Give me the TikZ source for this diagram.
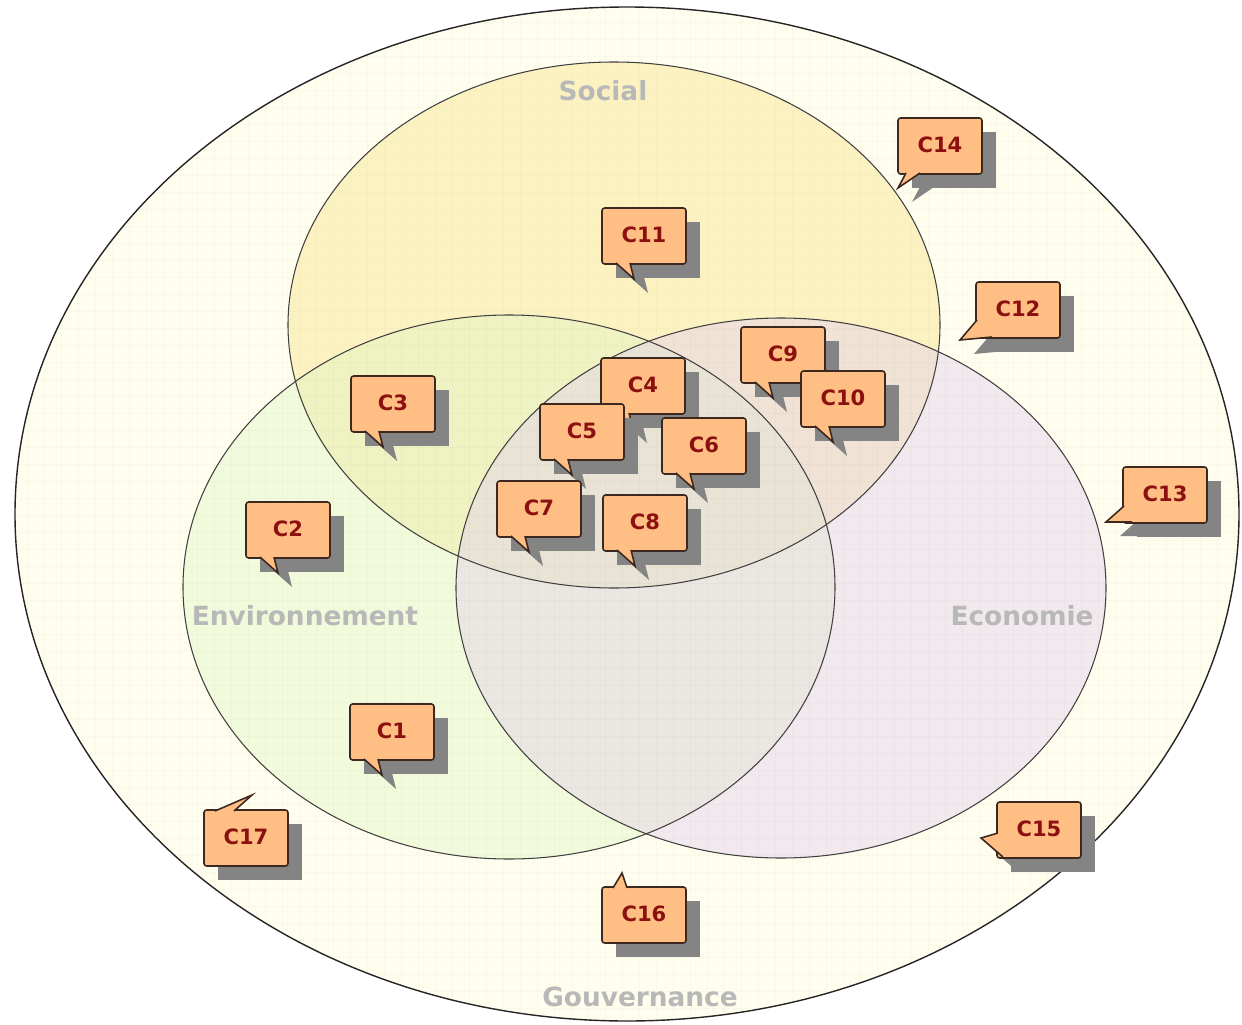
\documentclass[tikz,border=0pt]{standalone}
\usepackage{fontspec}
\setmainfont{DejaVu Sans}
\definecolor{outerfill}{RGB}{255,254,238}
\definecolor{socfill}{RGB}{250,232,150}
\definecolor{envfill}{RGB}{224,246,196}
\definecolor{ecofill}{RGB}{226,208,238}
\definecolor{lblgray}{RGB}{184,184,184}
\definecolor{cfillc}{RGB}{255,190,132}
\definecolor{clinec}{RGB}{60,40,30}
\definecolor{ctextc}{RGB}{140,16,16}
\definecolor{cshadowc}{RGB}{132,132,132}
\tikzset{
  cbox/.style={draw=clinec, line width=0.9pt, fill=cfillc, rounded corners=1.5pt,
    minimum width=1.68cm, minimum height=1.12cm, inner sep=0pt,
    font=\fontsize{12}{12}\selectfont\bfseries, text=ctextc},
  cline/.style={draw=clinec, line width=0.9pt, line join=miter},
  ctail/.style={fill=cfillc},
  cshadow/.style={fill=cshadowc},
  setlabel/.style={font=\fontsize{15}{15}\selectfont\bfseries, text=lblgray, inner sep=0pt},
  setline/.style={draw={black!75}, line width=0.6pt},
  gridline/.style={draw=black, opacity=0.018, line width=0.4pt}
}
\newcommand\callout[7]{%
  \fill[cshadow] ({#2-42+14},{#3-28+14}) rectangle ({#2+42+14},{#3+28+14});
  \fill[cshadow] ([shift={(14,14)}]#5) -- ([shift={(14,14)}]#7) -- ([shift={(14,14)}]#6) -- cycle;
  \node[cbox] (#1) at (#2,#3) {\raisebox{1.2pt}{#4}};
  \fill[ctail] (#5) -- (#7) -- (#6) -- cycle;
  \draw[cline] (#5) -- (#7) -- (#6);
}
\begin{document}
\begin{tikzpicture}[x=0.02cm,y=-0.02cm]
\fill[white] (0,0) rectangle (1242,1025);
\useasboundingbox (0,0) rectangle (1242,1025);
% outer ellipse (Gouvernance)
\fill[outerfill] (627,514) ellipse [x radius=612, y radius=507];
% sets
\fill[socfill, opacity=0.5] (614,325) ellipse [x radius=326, y radius=263];
\fill[envfill, opacity=0.45] (509,587) ellipse [x radius=326, y radius=272];
\fill[ecofill, opacity=0.45] (781,588) ellipse [x radius=325, y radius=270];
% faint grid
\begin{scope}
  \clip (627,514) ellipse [x radius=612, y radius=507];
  \foreach \i in {10,27,...,1242} \draw[gridline] (\i,0) -- (\i,1025);
  \foreach \j in {5,22,...,1025} \draw[gridline] (0,\j) -- (1242,\j);
\end{scope}
\draw[draw=black!85, line width=0.8pt] (627,514) ellipse [x radius=612, y radius=507];
\draw[setline] (614,325) ellipse [x radius=326, y radius=263];
\draw[setline] (509,587) ellipse [x radius=326, y radius=272];
\draw[setline] (781,588) ellipse [x radius=325, y radius=270];
% labels
\node[setlabel] (social) at (603,91) {Social};
\node[setlabel] (env) at (305,616) {Environnement};
\node[setlabel] (eco) at (1022,616) {Economie};
\node[setlabel] (gouv) at (640,997) {Gouvernance};
% callouts
\callout{c1}{392}{732}{C1}{364,759}{378,759}{382,775}
\callout{c2}{288}{530}{C2}{260,557}{274,557}{278,573}
\callout{c3}{393}{404}{C3}{365,431}{379,431}{383,447}
\callout{c4}{643}{386}{C4}{615,413}{629,413}{633,429}
\callout{c5}{582}{432}{C5}{554,459}{568,459}{572,475}
\callout{c6}{704}{446}{C6}{676,473}{690,473}{694,489}
\callout{c7}{539}{509}{C7}{511,536}{525,536}{529,552}
\callout{c8}{645}{523}{C8}{617,550}{631,550}{635,566}
\callout{c9}{783}{355}{C9}{755,382}{769,382}{773,398}
\callout{c10}{843}{399}{C10}{815,426}{829,426}{833,442}
\callout{c11}{644}{236}{C11}{616,263}{630,263}{634,279}
\callout{c12}{1018}{310}{C12}{977,320}{992,337}{960,340}
\callout{c13}{1165}{495}{C13}{1124,506}{1132,522}{1106,522}
\callout{c14}{940}{146}{C14}{906,173}{920,173}{898,188}
\callout{c15}{1039}{830}{C15}{998,833}{1003,857}{981,838}
\callout{c16}{644}{915}{C16}{613,888}{627,888}{622,873}
\callout{c17}{246}{838}{C17}{215,811}{234,811}{252,795}
\end{tikzpicture}
\end{document}
